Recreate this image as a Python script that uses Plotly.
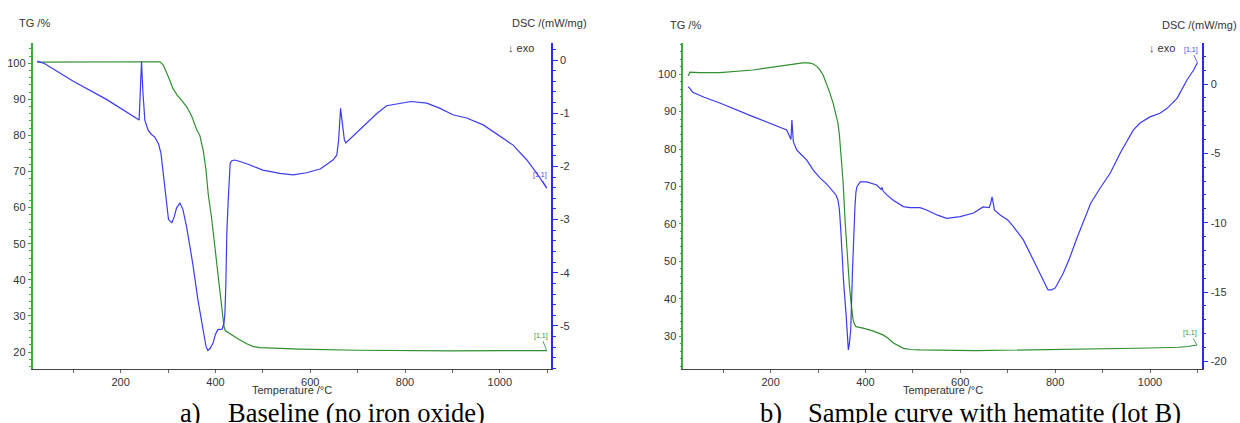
import plotly.graph_objects as go

# ---------------- data ----------------
# Panel a) baseline (no iron oxide)
tg_a_T = [24, 40, 100, 200, 260, 283, 290, 297, 303, 310, 320, 330, 340, 350, 361, 367, 374, 380,
          385, 392, 400, 410, 418, 421, 437, 450, 466, 480, 494, 578, 700, 800, 900, 1000, 1099]
tg_a = [100.3, 100.3, 100.4, 100.5, 100.5, 100.4, 99.5, 97.5, 95.5, 93.1, 91.0, 89.5, 87.8, 85.3,
        81.4, 80.0, 76.0, 70.5, 63.5, 57.0, 47.5, 35.0, 27.0, 25.9, 24.5, 23.5, 22.3, 21.5, 21.2,
        20.8, 20.5, 20.3, 20.3, 20.4, 20.4]

dsc_a_T = [24, 40, 100, 170, 239, 241, 244, 247, 251, 258, 265, 272, 280, 285, 289, 293, 296, 301,
           308, 313, 318, 325, 331, 339, 346, 353, 363, 374, 380, 384, 389, 395, 400, 405, 414, 418,
           420, 422, 424, 427, 429, 431, 434, 440, 445, 466, 500, 536, 564, 592, 621, 648, 656, 660,
           664, 668, 672, 675, 698, 719, 740, 761, 789, 813, 846, 874, 901, 930, 965, 1000, 1028,
           1057, 1078, 1099]
dsc_a = [-0.02, -0.07, -0.40, -0.74, -1.13, -0.60, -0.03, -0.60, -1.13, -1.32, -1.40, -1.45, -1.58,
         -1.75, -2.07, -2.40, -2.63, -3.00, -3.06, -2.95, -2.78, -2.69, -2.80, -3.13, -3.50, -3.88,
         -4.51, -5.13, -5.38, -5.46, -5.42, -5.32, -5.16, -5.07, -5.06, -4.95, -4.76, -4.20, -3.25,
         -2.63, -2.07, -1.95, -1.90, -1.88, -1.89, -1.95, -2.07, -2.13, -2.16, -2.12, -2.05, -1.88,
         -1.79, -1.50, -0.91, -1.20, -1.50, -1.56, -1.37, -1.19, -1.01, -0.86, -0.81, -0.78, -0.81,
         -0.91, -1.03, -1.09, -1.22, -1.44, -1.60, -1.88, -2.13, -2.41]

# Panel b) sample with hematite (lot B)
tg_b_T = [26.5, 30, 50, 93, 163, 234, 268, 280, 290, 298, 304, 311, 318, 325, 332, 338, 342, 345,
          348, 353, 357, 360, 363, 366, 369, 372, 374, 377, 380, 395, 417, 437, 448, 458, 470, 480,
          495, 515, 631, 700, 800, 900, 1000, 1060, 1080, 1099]
tg_b = [99.5, 100.5, 100.4, 100.4, 101.1, 102.3, 103.0, 103.0, 102.7, 102.0, 101.1, 99.7, 97.6, 95.0,
        92.2, 89.0, 87.0, 84.0, 79.8, 71.0, 61.1, 55.0, 48.7, 44.0, 39.8, 36.0, 34.4, 33.2, 32.6,
        32.2, 31.4, 30.4, 29.5, 28.3, 27.4, 26.8, 26.5, 26.4, 26.2, 26.3, 26.6, 26.6, 26.9, 27.1,
        27.3, 27.7]

dsc_b_T = [26.5, 36, 60, 93, 163, 234, 243, 245, 248, 255, 265, 276, 290, 304, 318, 332, 338, 342,
           345, 348, 351, 354, 359, 362, 364, 366, 369, 373, 376, 378, 380, 382, 389, 403, 424, 431,
           433, 435, 437, 445, 458, 480, 494, 515, 529, 551, 571, 600, 628, 648, 661, 664, 667, 670,
           672, 684, 700, 712, 733, 754, 775, 785, 792, 800, 817, 830, 846, 860, 875, 895, 916, 937,
           958, 965, 979, 1000, 1021, 1036, 1057, 1066, 1078, 1092, 1100]
dsc_b = [-0.19, -0.59, -0.95, -1.37, -2.35, -3.31, -4.00, -2.59, -4.16, -4.75, -5.10, -5.47, -6.20,
         -6.77, -7.20, -7.71, -8.00, -8.36, -9.00, -10.50, -12.50, -14.30, -16.50, -17.95, -19.17,
         -18.80, -17.73, -13.17, -10.00, -8.80, -7.80, -7.40, -7.06, -7.06, -7.28, -7.52, -7.60,
         -7.45, -7.70, -7.99, -8.36, -8.84, -8.91, -8.91, -9.08, -9.44, -9.68, -9.56, -9.30, -8.86,
         -8.91, -8.60, -8.14, -8.70, -9.08, -9.44, -9.80, -10.28, -11.24, -12.69, -14.13, -14.85,
         -14.85, -14.72, -13.64, -12.60, -11.10, -9.90, -8.60, -7.50, -6.43, -4.99, -3.80, -3.31,
         -2.81, -2.37, -2.11, -1.75, -1.03, -0.45, 0.29, 1.01, 1.54]

# tick labels
x_ticks = [200, 400, 600, 800, 1000]
tg_a_ticks = [20, 30, 40, 50, 60, 70, 80, 90, 100]
dsc_a_ticks = [0, -1, -2, -3, -4, -5]
tg_b_ticks = [30, 40, 50, 60, 70, 80, 90, 100]
dsc_b_ticks = [0, -5, -10, -15, -20]

captions = [("a)", "Baseline (no iron oxide)"), ("b)", "Sample curve with hematite (lot B)")]

# ---------------- style ----------------
W, H = 1240, 423
GREEN = "#2f8f2f"
GREEN_AX = "#3daa3d"
BLUE = "#3b3bf5"
BLUE_AX = "#2a2af0"
TXT = "#333333"
SANS = "Liberation Sans, Arial, sans-serif"
SERIF = "Liberation Serif, Times New Roman, serif"


def px(x):
    return x / W


def py(y):
    return 1 - y / H


ydom = [py(369), py(43)]

fig = go.Figure()
fig.add_trace(go.Scatter(x=tg_a_T, y=tg_a, mode="lines", line=dict(color=GREEN, width=1.2),
                         xaxis="x", yaxis="y", showlegend=False))
fig.add_trace(go.Scatter(x=dsc_a_T, y=dsc_a, mode="lines", line=dict(color=BLUE, width=1.2),
                         xaxis="x", yaxis="y2", showlegend=False))
fig.add_trace(go.Scatter(x=tg_b_T, y=tg_b, mode="lines", line=dict(color=GREEN, width=1.2),
                         xaxis="x2", yaxis="y3", showlegend=False))
fig.add_trace(go.Scatter(x=dsc_b_T, y=dsc_b, mode="lines", line=dict(color=BLUE, width=1.2),
                         xaxis="x2", yaxis="y4", showlegend=False))

tickfont = dict(family=SANS, size=11, color=TXT)


def xaxis(dom, rng, anchor):
    return dict(domain=dom, range=rng, anchor=anchor, tickvals=x_ticks, automargin=False,
                ticktext=[str(v) for v in x_ticks], ticks="outside", ticklen=3, tickcolor="#666",
                showline=True, linecolor="#444", linewidth=1, showgrid=False, zeroline=False,
                tickfont=tickfont, minor=dict(dtick=100, tick0=0, ticks="outside", ticklen=3,
                                              tickcolor="#666", showgrid=False))


def yaxis(rng, ticks, minor, color, side, anchor, overlaying=None, ticklen=3, mlen=2):
    d = dict(domain=ydom, range=rng, anchor=anchor, side=side, tickvals=ticks, automargin=False,
             ticktext=[str(v) for v in ticks], ticks="outside", ticklen=ticklen, tickcolor=color,
             showline=True, linecolor=color, linewidth=1.5, showgrid=False, zeroline=False,
             tickfont=tickfont,
             minor=dict(dtick=minor, tick0=0, ticks="outside", ticklen=mlen, tickcolor=color,
                        showgrid=False))
    if overlaying:
        d["overlaying"] = overlaying
    return d


fig.update_layout(
    width=W, height=H, margin=dict(l=0, r=0, t=0, b=0, autoexpand=False),
    paper_bgcolor="white", plot_bgcolor="white", showlegend=False,
    xaxis=xaxis([px(32.5), px(551)], [14, 1108], "y"),
    yaxis=yaxis([15.3, 105.6], tg_a_ticks, 2, GREEN_AX, "left", "x"),
    yaxis2=yaxis([-5.81, 0.32], dsc_a_ticks, 0.2, BLUE_AX, "right", "x", "y", ticklen=5, mlen=3),
    xaxis2=xaxis([px(683.3), px(1201.7)], [16, 1109], "y3"),
    yaxis3=yaxis([21.3, 108.3], tg_b_ticks, 2, GREEN_AX, "left", "x2"),
    yaxis4=yaxis([-20.55, 2.96], dsc_b_ticks, 1, BLUE_AX, "right", "x2", "y3", ticklen=5, mlen=3),
)

ann = []


def label(x, y, text, size=11, color=TXT, xanchor="left", family=SANS, **kw):
    ann.append(dict(x=px(x), y=py(y), xref="paper", yref="paper", text=text, showarrow=False,
                    xanchor=xanchor, yanchor="middle", font=dict(family=family, size=size, color=color),
                    **kw))


# axis titles
label(17, 23, "TG /%")
label(589, 23, "DSC /(mW/mg)", xanchor="right")
label(668, 25, "TG /%")
label(1239, 25, "DSC /(mW/mg)", xanchor="right")
label(506, 48, "<span style='color:#444'>↓</span> exo")
label(1147, 48, "<span style='color:#8a2a2a'>↓</span> exo")
label(291.75, 390, "Temperature /°C", xanchor="center")
label(942.5, 390, "Temperature /°C", xanchor="center")

# captions
CY = 413
label(178, CY, captions[0][0], size=26.5, color="black", family=SERIF)
label(227, CY, captions[0][1], size=26.5, color="black", family=SERIF, bgcolor="white", borderpad=0)
label(758, CY, captions[1][0], size=26.5, color="black", family=SERIF)
label(807, CY, captions[1][1], size=26.5, color="black", family=SERIF, bgcolor="white", borderpad=0)

# end markers "[1,1]"
for xr, yr, xs, ys, col, ax_, ay_ in [
    ("x", "y", tg_a_T, tg_a, GREEN, -6, -15),
    ("x", "y2", dsc_a_T, dsc_a, BLUE, -7, -13),
    ("x2", "y3", tg_b_T, tg_b, GREEN, -7, -12),
    ("x2", "y4", dsc_b_T, dsc_b, BLUE, -6, -13),
]:
    ann.append(dict(x=xs[-1], y=ys[-1], xref=xr, yref=yr, text="[1,1]", showarrow=True,
                    arrowhead=0, arrowwidth=0.8, arrowcolor=col, ax=ax_, ay=ay_,
                    font=dict(family=SANS, size=7, color=col)))

fig.update_layout(annotations=ann)
fig.write_html("out.html", config={"displayModeBar": False},
               post_script="document.body.style.margin='0';")
